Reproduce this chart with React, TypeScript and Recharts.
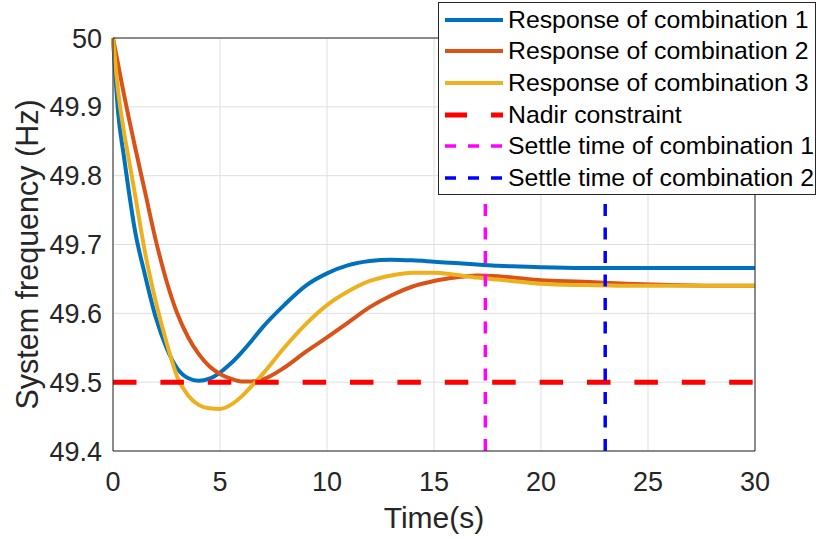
import React from 'react';
import {
  LineChart,
  Line,
  XAxis,
  YAxis,
  CartesianGrid,
  ReferenceLine,
  Legend,
  Label,
} from 'recharts';

// time axis (s)
const TIME = [
  0, 0.25, 0.5, 0.75, 1, 1.5, 2, 2.5, 3, 3.5, 4, 4.5, 5, 5.5, 6, 6.5, 7,
  8, 9, 10, 11, 12, 13, 14, 15, 16, 17, 18, 19, 20, 22, 24, 26, 28, 30,
];

// frequency responses (Hz)
const COMBO_1 = [
  50, 49.888, 49.83, 49.775, 49.725, 49.655, 49.594, 49.55, 49.52, 49.506, 49.502, 49.505, 49.514, 49.527, 49.543, 49.561, 49.58,
  49.612, 49.64, 49.658, 49.67, 49.676, 49.678, 49.677, 49.675, 49.673, 49.671, 49.669, 49.668, 49.667, 49.666, 49.666, 49.666, 49.666, 49.666,
];
const COMBO_2 = [
  50, 49.96, 49.92, 49.882, 49.846, 49.776, 49.706, 49.647, 49.6, 49.566, 49.541, 49.523, 49.512, 49.505, 49.501, 49.501, 49.504,
  49.521, 49.544, 49.565, 49.587, 49.609, 49.626, 49.639, 49.647, 49.652, 49.655, 49.654, 49.651, 49.648, 49.646, 49.643, 49.641, 49.64, 49.64,
];
const COMBO_3 = [
  50, 49.92, 49.866, 49.822, 49.778, 49.688, 49.617, 49.558, 49.508, 49.481, 49.467, 49.462, 49.461, 49.467, 49.479, 49.495, 49.512,
  49.55, 49.584, 49.612, 49.632, 49.647, 49.655, 49.659, 49.659, 49.656, 49.652, 49.649, 49.646, 49.643, 49.641, 49.64, 49.64, 49.64, 49.64,
];

const NADIR = 49.5;
const SETTLE_1 = 17.4;
const SETTLE_2 = 23;

const X_TICKS = [0, 5, 10, 15, 20, 25, 30];
const Y_TICKS = [49.4, 49.5, 49.6, 49.7, 49.8, 49.9, 50];

const LEGEND_LABELS = [
  'Response of combination 1',
  'Response of combination 2',
  'Response of combination 3',
  'Nadir constraint',
  'Settle time of combination 1',
  'Settle time of combination 2',
];

const COLORS = ['#0072bd', '#d95319', '#edb120', '#ff0000', '#ff00ff', '#0000ff'];
const WIDTHS = [4, 4, 4, 5, 3.5, 3.5];
const LEGEND_DASH = [undefined, undefined, undefined, '22 24', '11 12', '11 12'];

const AXIS = '#262626';
const FONT = '"Liberation Sans", Arial, Helvetica, sans-serif';

const data = TIME.map((t, i) => ({
  t,
  c1: COMBO_1[i],
  c2: COMBO_2[i],
  c3: COMBO_3[i],
}));

const LegendBox = () => (
  <div
    style={{
      boxSizing: 'border-box',
      width: 378,
      height: 193,
      border: `1px solid ${AXIS}`,
      background: '#fff',
      paddingTop: 1,
      fontFamily: FONT,
    }}
  >
    {LEGEND_LABELS.map((label, i) => (
      <div key={label} style={{ display: 'flex', alignItems: 'center', height: 31.6 }}>
        <svg width={58} height={10} style={{ marginLeft: 6, flex: 'none' }}>
          <line
            x1={0}
            x2={58}
            y1={5}
            y2={5}
            stroke={COLORS[i]}
            strokeWidth={WIDTHS[i]}
            strokeDasharray={LEGEND_DASH[i]}
          />
        </svg>
        <span style={{ marginLeft: 5, fontSize: 24.8, color: '#000', whiteSpace: 'nowrap' }}>{label}</span>
      </div>
    ))}
  </div>
);

const YTitle = (props: any) => {
  const { viewBox } = props;
  const x = viewBox.x + 27;
  const y = viewBox.y + viewBox.height / 2 + 10;
  return (
    <text
      x={x}
      y={y}
      transform={`rotate(-90 ${x} ${y})`}
      textAnchor="middle"
      dominantBaseline="central"
      fill={AXIS}
      fontSize={30.5}
      fontFamily={FONT}
    >
      System frequency (Hz)
    </text>
  );
};

export default function App() {
  return (
    <div style={{ position: 'absolute', left: 0, top: 0 }}>
      <LineChart
        width={817}
        height={540}
        data={data}
        margin={{ top: 38, right: 62, bottom: 0, left: 0 }}
        style={{ fontFamily: FONT }}
      >
        <CartesianGrid stroke="#dfdfdf" />
        <XAxis
          dataKey="t"
          type="number"
          domain={[0, 30]}
          ticks={X_TICKS}
          interval={0}
          height={89}
          tickSize={0}
          tickMargin={21}
          axisLine={{ stroke: AXIS }}
          tick={{ fill: AXIS, fontSize: 27 }}
        >
          <Label value="Time(s)" position="insideBottom" offset={12} fill={AXIS} fontSize={30} />
        </XAxis>
        <YAxis
          type="number"
          domain={[49.4, 50]}
          ticks={Y_TICKS}
          interval={0}
          width={113}
          tickSize={0}
          tickMargin={11}
          axisLine={{ stroke: AXIS }}
          tick={{ fill: AXIS, fontSize: 27 }}
        >
          <Label content={<YTitle />} />
        </YAxis>
        {/* inner tick marks and the box around the axes */}
        <XAxis
          xAxisId="bottomTicks"
          type="number"
          domain={[0, 30]}
          ticks={X_TICKS}
          allowDataOverflow
          mirror
          tick={false}
          tickSize={6}
          axisLine={false}
          tickLine={{ stroke: AXIS }}
        />
        <XAxis
          xAxisId="top"
          orientation="top"
          type="number"
          domain={[0, 30]}
          ticks={X_TICKS}
          allowDataOverflow
          mirror
          tick={false}
          tickSize={6}
          axisLine={{ stroke: AXIS }}
          tickLine={{ stroke: AXIS }}
        />
        <YAxis
          yAxisId="leftTicks"
          type="number"
          domain={[49.4, 50]}
          ticks={Y_TICKS}
          allowDataOverflow
          mirror
          tick={false}
          tickSize={6}
          axisLine={false}
          tickLine={{ stroke: AXIS }}
        />
        <YAxis
          yAxisId="right"
          orientation="right"
          type="number"
          domain={[49.4, 50]}
          ticks={Y_TICKS}
          allowDataOverflow
          mirror
          tick={false}
          tickSize={6}
          axisLine={{ stroke: AXIS }}
          tickLine={{ stroke: AXIS }}
        />
        <Line type="monotone" dataKey="c1" stroke={COLORS[0]} strokeWidth={WIDTHS[0]} dot={false} isAnimationActive={false} />
        <Line type="monotone" dataKey="c2" stroke={COLORS[1]} strokeWidth={WIDTHS[1]} dot={false} isAnimationActive={false} />
        <Line type="monotone" dataKey="c3" stroke={COLORS[2]} strokeWidth={WIDTHS[2]} dot={false} isAnimationActive={false} />
        <ReferenceLine y={NADIR} stroke={COLORS[3]} strokeWidth={WIDTHS[3]} strokeDasharray="23.5 23.9" />
        <ReferenceLine x={SETTLE_1} stroke={COLORS[4]} strokeWidth={WIDTHS[4]} strokeDasharray="12 11.5" />
        <ReferenceLine x={SETTLE_2} stroke={COLORS[5]} strokeWidth={WIDTHS[5]} strokeDasharray="12 11.5" />
        <Legend
          layout="vertical"
          align="center"
          verticalAlign="middle"
          content={<LegendBox />}
          wrapperStyle={{ top: 2, left: 438, width: 378 }}
        />
      </LineChart>
    </div>
  );
}
